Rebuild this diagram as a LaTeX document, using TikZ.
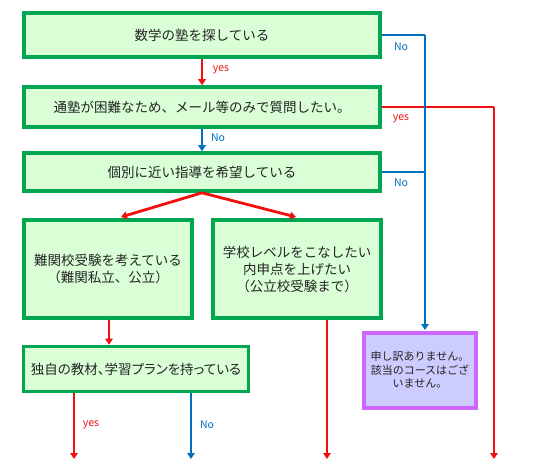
\documentclass[tikz,border=0pt]{standalone}
\usepackage{fontspec}
\setmainfont{Noto Sans CJK JP}
\usetikzlibrary{arrows.meta}
\definecolor{gborder}{RGB}{0,166,80}
\definecolor{gfill}{RGB}{218,255,214}
\definecolor{myred}{RGB}{240,16,16}
\definecolor{myblue}{RGB}{0,112,192}
\definecolor{pborder}{RGB}{204,102,255}
\definecolor{pfill}{RGB}{204,204,255}
\definecolor{txt}{RGB}{35,35,35}
\tikzset{
  gbox/.style={draw=gborder, fill=gfill, line width=3.6pt, inner sep=0pt, align=center, text=txt, font=\fontsize{13.5}{17}\selectfont},
  pbox/.style={draw=pborder, fill=pfill, line width=4pt, inner sep=0pt, align=center, text=txt, font=\fontsize{11}{13.5}\selectfont},
  rline/.style={draw=myred, line width=2.8pt},
  bline/.style={draw=myblue, line width=2.8pt},
  rarr/.style={rline, -{Triangle[length=6pt,width=7.5pt]}},
  barr/.style={bline, -{Triangle[length=6pt,width=7.5pt]}},
  rlab/.style={text=myred, font=\fontsize{10.5}{12}\selectfont},
  blab/.style={text=myblue, font=\fontsize{10.5}{12}\selectfont},
}
\begin{document}
\begin{tikzpicture}[x=1pt,y=-1pt]
\useasboundingbox (0,0) rectangle (540,460);
% boxes
\node[gbox, minimum width=356pt, minimum height=44pt] (b1) at (202,35) {数学の塾を探している};
\node[gbox, minimum width=356pt, minimum height=40pt] (b2) at (202,107) {通塾が困難なため、メール等のみで質問したい。};
\node[gbox, minimum width=356pt, minimum height=38pt] (b3) at (202,172) {個別に近い指導を希望している};
\node[gbox, minimum width=168pt, minimum height=98pt] (b4) at (108,269) {難関校受験を考えている\\（難関私立、公立）};
\node[gbox, minimum width=168pt, minimum height=98pt] (b5) at (297,269) {学校レベルをこなしたい\\内申点を上げたい\\（公立校受験まで）};
\node[gbox, minimum width=225pt, minimum height=45pt, font=\fontsize{13.5}{17}\selectfont\addfontfeature{RawFeature=+palt}] (b6) at (136,369) {独自の教材、学習プランを持っている};
\node[pbox, minimum width=112pt, minimum height=75pt] (p) at (420,370) {申し訳ありません。\\該当のコースはござ\\いません。};
% coordinates
\coordinate (rx) at (494,107);
\coordinate (rend) at (494,459);
\coordinate (bx1) at (425,35);
\coordinate (bx3) at (425,172);
\coordinate (pt) at (425,330);
\coordinate (e5) at (327,459);
\coordinate (e6y) at (74,459);
\coordinate (e6n) at (191,459);
\coordinate (t4) at (121,217);
\coordinate (t5) at (296,217);
% red right line
\draw[rline] (b2.east) -- (rx);
\draw[rarr] (rx) -- (rend);
\node[rlab] at (401,119) {yes};
% blue right line
\draw[bline] (b1.east) -- (bx1);
\draw[bline] (b3.east) -- (bx3);
\draw[barr] (bx1) -- (pt);
\node[blab] at (401,47) {No};
\node[blab] at (401,183) {No};
% vertical arrows
\draw[rarr] (b1.south) -- (b2.north);
\node[rlab] at (221,70) {yes};
\draw[barr] (b2.south) -- (b3.north);
\node[blab] at (218,138) {No};
% split
\draw[rarr] (b3.south) -- (t4);
\draw[rarr] (b3.south) -- (t5);
% b4 -> b6
\draw[rarr] (b4.south -| 109,0) -- (b6.north -| 109,0);
% b5 down
\draw[rarr] (b5.south -| e5) -- (e5);
% b6 down
\draw[rarr] (b6.south -| e6y) -- (e6y);
\node[rlab] at (91,425) {yes};
\draw[barr] (b6.south -| e6n) -- (e6n);
\node[blab] at (207,425) {No};
\end{tikzpicture}
\end{document}
